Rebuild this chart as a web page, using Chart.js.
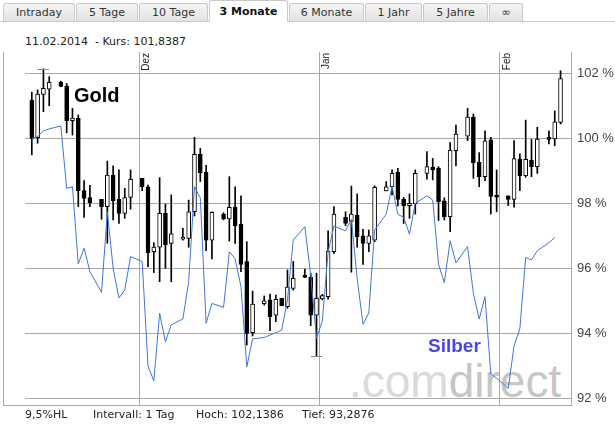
<!DOCTYPE html>
<html>
<head>
<meta charset="utf-8">
<script src="https://cdn.jsdelivr.net/npm/chart.js@4"></script>
<style>
body { margin: 0; background: #fff; }
#wrap { position: relative; width: 615px; height: 425px; overflow: hidden; font-family: "DejaVu Sans", Verdana, sans-serif; color: #222; }
#tabs { position: absolute; left: 0; top: 0; width: 615px; height: 22px; border-bottom: 1px solid #c9c9c9; box-sizing: border-box; }
.tab { position: absolute; top: 3px; height: 18px; box-sizing: border-box; border: 1px solid #c9c9c9; border-bottom: none; border-radius: 3px 3px 0 0; background: linear-gradient(#f5f5f5, #e3e3e3); font-size: 11px; line-height: 18px; text-align: center; color: #333; }
.tab.active { top: 0; height: 22px; background: #fff; font-weight: bold; line-height: 22px; color: #111; }
#head { position: absolute; left: 25px; top: 35px; font-size: 11px; white-space: pre; }
#foot span { position: absolute; top: 408px; font-size: 11px; white-space: pre; }
#frame { position: absolute; left: 3px; top: 52px; width: 569px; height: 354px; box-sizing: border-box; border: 1px solid #aaa; border-top: none; }
#mark { position: absolute; left: 349px; top: 358px; font: 46px "Liberation Sans", Arial, sans-serif; line-height: 46px; white-space: pre; }
#chart { position: absolute; left: 0; top: 0; }
.lbl { position: absolute; font-family: "Liberation Sans", Arial, sans-serif; font-weight: bold; white-space: pre; }
</style>
</head>
<body>
<div id="wrap">
  <div id="tabs">
    <div class="tab" style="left:3px;width:72px">Intraday</div>
    <div class="tab" style="left:76px;width:62px">5 Tage</div>
    <div class="tab" style="left:139px;width:69px">10 Tage</div>
    <div class="tab active" style="left:209px;width:79px">3 Monate</div>
    <div class="tab" style="left:289px;width:75px">6 Monate</div>
    <div class="tab" style="left:365px;width:57px">1 Jahr</div>
    <div class="tab" style="left:423px;width:65px">5 Jahre</div>
    <div class="tab" style="left:489px;width:34px">∞</div>
  </div>
  <div id="head">11.02.2014  - Kurs: 101,8387</div>
  <div id="frame"></div>
  <div id="mark"><span style="color:#dadada">.com</span><span style="color:#c6c6c6">direct</span></div>
  <canvas id="chart" width="615" height="425"></canvas>
  <div class="lbl" style="left:74px;top:84px;font-size:20px;color:#000">Gold</div>
  <div class="lbl" style="left:428px;top:335px;font-size:19px;color:#4646ee">Silber</div>
  <div id="foot">
    <span style="left:25px">9,5%HL</span>
    <span style="left:93px">Intervall: 1 Tag</span>
    <span style="left:196px">Hoch: 102,1386</span>
    <span style="left:302px">Tief: 93,2876</span>
  </div>
</div>
<script>
// trading days shown (Saturdays have no data)
const dates = [
    "2013-11-12", "2013-11-13", "2013-11-14", "2013-11-15", "2013-11-17", "2013-11-18", "2013-11-19", "2013-11-20", "2013-11-21", "2013-11-22",
    "2013-11-24", "2013-11-25", "2013-11-26", "2013-11-27", "2013-11-28", "2013-11-29", "2013-12-01", "2013-12-02", "2013-12-03", "2013-12-04",
    "2013-12-05", "2013-12-06", "2013-12-08", "2013-12-09", "2013-12-10", "2013-12-11", "2013-12-12", "2013-12-13", "2013-12-15", "2013-12-16",
    "2013-12-17", "2013-12-18", "2013-12-19", "2013-12-20", "2013-12-22", "2013-12-23", "2013-12-24", "2013-12-25", "2013-12-26", "2013-12-27",
    "2013-12-29", "2013-12-30", "2013-12-31", "2014-01-01", "2014-01-02", "2014-01-03", "2014-01-05", "2014-01-06", "2014-01-07", "2014-01-08",
    "2014-01-09", "2014-01-10", "2014-01-12", "2014-01-13", "2014-01-14", "2014-01-15", "2014-01-16", "2014-01-17", "2014-01-19", "2014-01-20",
    "2014-01-21", "2014-01-22", "2014-01-23", "2014-01-24", "2014-01-26", "2014-01-27", "2014-01-28", "2014-01-29", "2014-01-30", "2014-01-31",
    "2014-02-02", "2014-02-03", "2014-02-04", "2014-02-05", "2014-02-06", "2014-02-07", "2014-02-09", "2014-02-10", "2014-02-11"
];

// Gold, in % of the first close
const goldOpen = [
    101.18, 100.02, 101.35, 101.51, 101.72, 101.61, 100.54, 100.62, 98.39, 98.18,
    98.12, 97.90, 98.87, 98.12, 97.69, 98.18, 98.77, 98.51, 96.51, 96.65,
    97.69, 96.77, 96.90, 96.92, 97.74, 99.51, 98.95, 96.87, 97.67, 97.52,
    97.88, 97.36, 96.21, 94.02, 94.91, 95.03, 94.56, 95.08, 94.82, 95.38,
    95.73, 95.72, 94.56, 95.06, 95.13, 96.51, 97.57, 97.44, 97.64, 97.00,
    96.77, 96.87, 98.38, 98.51, 98.95, 98.12, 97.93, 97.98, 98.92, 99.11,
    99.08, 98.08, 97.59, 99.62, 100.07, 100.65, 99.26, 98.82, 99.95, 98.23,
    98.23, 98.12, 99.36, 98.85, 99.33, 99.13, 99.99, 99.98, 100.49
];
const goldHigh = [
    101.42, 101.49, 102.14, 101.90, 101.76, 101.69, 100.92, 100.72, 98.70, 98.55,
    98.12, 99.30, 99.15, 99.03, 98.46, 99.03, 98.77, 98.56, 96.79, 98.79,
    97.98, 98.26, 97.23, 98.10, 100.03, 99.69, 99.17, 97.74, 97.71, 98.82,
    98.51, 98.23, 96.82, 95.30, 95.15, 95.21, 95.18, 95.08, 95.95, 96.21,
    95.97, 95.85, 95.85, 95.20, 97.15, 97.90, 97.74, 98.53, 98.29, 97.20,
    97.18, 98.54, 98.67, 99.03, 99.08, 98.18, 98.29, 99.03, 99.59, 99.38,
    99.13, 98.17, 99.87, 100.41, 100.92, 100.75, 99.56, 100.23, 100.03, 99.03,
    98.23, 99.93, 99.52, 100.56, 99.97, 100.34, 100.23, 100.84, 102.08
];
const goldLow = [
    99.49, 99.85, 100.82, 101.00, 101.59, 100.17, 100.10, 97.90, 97.57, 97.90,
    97.51, 96.77, 97.49, 97.38, 97.54, 97.82, 98.39, 96.05, 95.87, 95.59,
    96.00, 95.59, 96.87, 96.65, 97.61, 98.67, 96.54, 96.29, 97.49, 96.84,
    96.77, 95.90, 93.64, 93.92, 94.87, 94.08, 94.36, 94.85, 94.77, 95.33,
    95.71, 94.24, 93.29, 95.03, 95.05, 96.46, 97.31, 95.88, 96.65, 96.12,
    96.51, 96.82, 98.38, 98.26, 97.92, 97.38, 97.54, 97.67, 98.74, 98.72,
    97.47, 97.49, 97.13, 99.15, 99.93, 98.77, 98.51, 98.70, 97.67, 97.74,
    97.93, 97.88, 98.39, 98.80, 98.82, 98.92, 99.83, 99.77, 100.44
];
const goldClose = [
    100.00, 101.36, 101.54, 101.72, 101.60, 100.54, 100.62, 98.39, 98.15, 98.02,
    97.90, 98.87, 98.08, 97.69, 98.18, 98.74, 98.51, 96.48, 96.65, 97.69,
    96.72, 97.06, 96.93, 97.74, 99.51, 98.94, 96.87, 97.72, 97.52, 97.88,
    97.31, 96.12, 94.00, 94.90, 95.00, 94.51, 95.05, 94.85, 95.42, 95.69,
    95.72, 94.56, 95.08, 95.16, 96.53, 97.67, 97.38, 97.67, 96.97, 96.77,
    97.00, 98.49, 98.51, 98.92, 98.12, 97.93, 98.00, 98.92, 99.13, 99.03,
    98.05, 97.59, 99.64, 100.13, 100.65, 99.25, 98.82, 99.92, 98.21, 98.19,
    98.12, 99.38, 98.85, 99.35, 99.13, 99.98, 99.97, 100.51, 101.84
];

// Silber, in % of its first close
const silver = [
    100.00, 100.05, 100.23, 100.29, 100.38, 98.46, 98.51, 96.13, 96.62, 95.90,
    95.26, 97.74, 96.00, 95.09, 95.33, 96.36, 96.21, 92.99, 92.54, 94.62,
    93.74, 94.26, 94.44, 95.59, 98.51, 98.17, 94.31, 94.92, 94.80, 96.51,
    96.29, 95.44, 92.97, 93.83, 93.87, 93.95, 94.02, 94.10, 95.03, 96.87,
    97.28, 95.79, 93.85, 94.38, 96.51, 97.30, 97.15, 97.51, 95.69, 94.28,
    94.62, 97.18, 97.67, 98.53, 97.66, 97.57, 97.05, 98.00, 98.23, 98.10,
    96.13, 95.56, 96.85, 96.17, 96.67, 95.23, 94.44, 95.13, 92.75, 92.62,
    92.31, 93.61, 94.15, 96.33, 96.26, 96.54, 96.79, 96.95, null
];

const monthStarts = ["2013-12-01", "2014-01-01", "2014-02-01"];
const monthLabels = ["Dez", "Jan", "Feb"];

const DAY = 86400000;
const base = Date.UTC(2013, 11, 1);
function dayNum(s) {
    const [y, m, d] = s.split("-").map(Number);
    return (Date.UTC(y, m - 1, d) - base) / DAY;
}

// candle sits in the middle of its day
const xs = dates.map(s => dayNum(s) + 0.5);

const wicks = xs.map((x, i) => ({ x: x, y: [goldLow[i], goldHigh[i]] }));
const bodies = xs.map((x, i) => ({ x: x, y: [Math.min(goldOpen[i], goldClose[i]), Math.max(goldOpen[i], goldClose[i])] }));
const bodyColors = goldClose.map((c, i) => c < goldOpen[i] ? "#000" : "#fff");
const silverPts = xs.map((x, i) => ({ x: x, y: silver[i] }));

const gridColor = "#a8a8a8";

// month names along the top and the high/low markers
const extras = {
    id: "extras",
    afterDatasetsDraw(chart) {
        const ctx = chart.ctx;
        const xScale = chart.scales.x;
        const yScale = chart.scales.y;
        const top = chart.chartArea.top;

        ctx.save();
        ctx.fillStyle = "#222";
        ctx.font = "10px 'Liberation Sans', Arial, sans-serif";
        ctx.textAlign = "right";
        ctx.textBaseline = "top";
        monthStarts.forEach((s, i) => {
            const px = Math.round(xScale.getPixelForValue(dayNum(s))) + 2;
            ctx.save();
            ctx.translate(px, top);
            ctx.rotate(-Math.PI / 2);
            ctx.fillText(monthLabels[i], -1, 0);
            ctx.restore();
        });

        const hi = goldHigh.indexOf(Math.max(...goldHigh));
        const lo = goldLow.indexOf(Math.min(...goldLow));
        ctx.strokeStyle = "#888";
        ctx.lineWidth = 1;
        [[hi, goldHigh[hi]], [lo, goldLow[lo]]].forEach(([i, v]) => {
            const px = xScale.getPixelForValue(xs[i]);
            const py = Math.round(yScale.getPixelForValue(v)) + 0.5;
            ctx.beginPath();
            ctx.moveTo(px - 5.5, py);
            ctx.lineTo(px + 5.5, py);
            ctx.stroke();
        });
        ctx.restore();
    }
};

Chart.defaults.font.family = "'Liberation Sans', Arial, sans-serif";

new Chart(document.getElementById("chart"), {
    type: "bar",
    data: {
        datasets: [
            {
                type: "line",
                label: "Silber",
                data: silverPts,
                borderColor: "#4273dc",
                borderWidth: 1,
                pointRadius: 0,
                tension: 0,
                order: 0,
            },
            {
                label: "Gold",
                data: bodies,
                backgroundColor: bodyColors,
                borderColor: "#000",
                borderWidth: 1,
                borderSkipped: false,
                barThickness: 4,
                minBarLength: 2,
                grouped: false,
                order: 1,
            },
            {
                label: "Gold Docht",
                data: wicks,
                backgroundColor: "#000",
                borderWidth: 0,
                barThickness: 1,
                grouped: false,
                order: 2,
            }
        ]
    },
    options: {
        responsive: false,
        devicePixelRatio: 1,
        animation: false,
        layout: { padding: { left: 25, top: 52, right: 0, bottom: 20 } },
        plugins: {
            legend: { display: false },
            tooltip: { enabled: false },
        },
        scales: {
            x: {
                type: "linear",
                min: -19.67,
                max: 74.3,
                offset: false,
                grid: { color: gridColor, drawTicks: false, offset: false },
                border: { display: false },
                ticks: { display: false },
                afterBuildTicks: scale => {
                    scale.ticks = monthStarts.map(s => ({ value: dayNum(s) }));
                },
                afterFit: scale => { scale.height = 0; },
            },
            y: {
                position: "right",
                min: 91.795,
                max: 102.656,
                grid: { color: gridColor, drawTicks: false },
                border: { display: false },
                ticks: {
                    stepSize: 2,
                    includeBounds: false,
                    padding: 6,
                    color: "#444",
                    font: { size: 13 },
                    callback: v => v + " %",
                },
                afterFit: scale => { scale.width = 44; },
            }
        }
    },
    plugins: [extras]
});
</script>
</body>
</html>
